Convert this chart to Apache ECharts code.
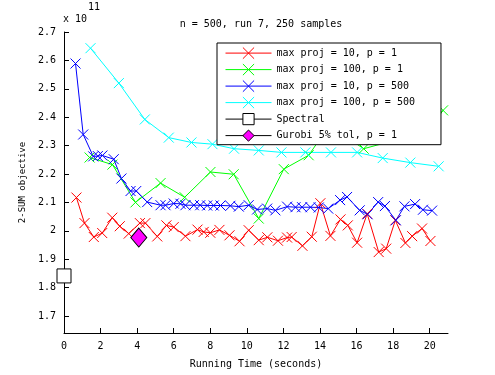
<!DOCTYPE html>
<html>
<head>
<meta charset="utf-8">
<script src="https://cdn.jsdelivr.net/npm/echarts@6/dist/echarts.min.js"></script>
<style>
    html, body { margin: 0; padding: 0; background: #fff; }
    #chart { width: 495px; height: 375px; }
</style>
</head>
<body>
<div id="chart"></div>
<script>
    // objective values are in units of 1e11 (see "x 10^11" label)
    let redTime = [0.68, 1.12, 1.63, 2.09, 2.64, 3.05, 3.54, 4.15, 4.45, 5.1, 5.6, 6.0, 6.64, 7.3, 7.64, 8.0, 8.5, 9.05, 9.6, 10.1,
        10.65, 11.12, 11.7, 12.2, 12.45, 13.04, 13.55, 14.02, 14.57, 15.12, 15.52, 16.03, 16.58, 17.21, 17.62, 18.12, 18.67, 19.04, 19.58, 20.04];
    let redObj = [2.117, 2.027, 1.978, 1.992, 2.046, 2.016, 1.99, 2.027, 2.027, 1.98, 2.019, 2.013, 1.981, 2.004, 1.996, 1.993, 2.003, 1.984, 1.963, 2.002,
        1.967, 1.977, 1.965, 1.976, 1.978, 1.947, 1.979, 2.097, 1.982, 2.04, 2.019, 1.958, 2.06, 1.925, 1.937, 2.037, 1.957, 1.981, 2.008, 1.964];

    let greenTime = [1.4, 2.65, 3.91, 5.28, 6.6, 8.01, 9.28, 10.65, 12.02, 13.38, 14.5, 16.39, 19.9, 20.73];
    let greenObj = [2.258, 2.233, 2.1, 2.168, 2.118, 2.207, 2.199, 2.043, 2.217, 2.266, 2.37, 2.289, 2.35, 2.424];

    let blueTime = [0.63, 1.05, 1.6, 1.85, 2.1, 2.72, 3.14, 3.64, 3.95, 4.55, 5.28, 5.55, 6.0, 6.37, 6.64, 7.1, 7.45, 7.83, 8.19, 8.56,
        9.1, 9.56, 10.1, 10.56, 11.11, 11.56, 12.2, 12.66, 13.02, 13.48, 13.93, 14.45, 15.1, 15.48, 16.17, 16.6, 17.18, 17.55, 18.15, 18.62,
        19.2, 19.63, 20.13];
    let blueObj = [2.589, 2.339, 2.262, 2.263, 2.265, 2.252, 2.184, 2.14, 2.14, 2.101, 2.09, 2.09, 2.096, 2.095, 2.09, 2.09, 2.09, 2.089, 2.089, 2.089,
        2.088, 2.085, 2.09, 2.075, 2.078, 2.072, 2.085, 2.083, 2.083, 2.083, 2.082, 2.078, 2.108, 2.119, 2.072, 2.058, 2.101, 2.087, 2.037, 2.086,
        2.094, 2.074, 2.071];

    let cyanTime = [1.45, 3.0, 4.42, 5.73, 6.97, 8.12, 9.3, 10.65, 11.89, 13.2, 14.6, 16.03, 17.43, 18.94, 20.49];
    let cyanObj = [2.643, 2.52, 2.392, 2.328, 2.311, 2.305, 2.289, 2.283, 2.276, 2.276, 2.276, 2.276, 2.256, 2.24, 2.227];

    let spectralTime = [0];
    let spectralObj = [1.841];
    let gurobiTime = [4.09];
    let gurobiObj = [1.976];

    let xTicks = [0, 2, 4, 6, 8, 10, 12, 14, 16, 18, 20];
    let yTicks = [1.7, 1.8, 1.9, 2, 2.1, 2.2, 2.3, 2.4, 2.5, 2.6, 2.7];

    let names = ['max proj = 10, p = 1', 'max proj = 100, p = 1', 'max proj = 10, p = 500',
        'max proj = 100, p = 500', 'Spectral', 'Gurobi 5% tol, p = 1'];

    let font = 'DejaVu Sans Mono';
    let cross = 'path://M0,0L10,10M10,0L0,10';

    function pairs(t, v) {
        return t.map(function (x, i) { return [x, v[i]]; });
    }

    function crossSeries(name, color, t, v) {
        return {
            name: name,
            type: 'line',
            data: pairs(t, v),
            symbol: cross,
            symbolSize: 10,
            lineStyle: {color: color, width: 1},
            itemStyle: {color: color, borderColor: color, borderWidth: 1},
            emphasis: {disabled: true}
        };
    }

    let chart = echarts.init(document.getElementById('chart'));
    let option = {
        animation: false,
        backgroundColor: '#fff',
        textStyle: {fontFamily: font},
        title: {
            text: 'n = 500, run 7, 250 samples',
            left: 256,
            textAlign: 'center',
            top: 14,
            textStyle: {fontSize: 10, fontWeight: 'normal', color: '#000', fontFamily: font}
        },
        graphic: [
            {type: 'text', left: 63, top: 14, style: {text: 'x 10', font: '10px ' + font, fill: '#000'}},
            {type: 'text', left: 88, top: 2, style: {text: '11', font: '10px ' + font, fill: '#000'}}
        ],
        grid: {left: 64, right: 47, top: 32, bottom: 42},
        legend: {
            orient: 'vertical',
            left: 217,
            top: 43,
            padding: [4, 26, 3, 8],
            itemWidth: 46,
            itemHeight: 14,
            itemGap: 4.3,
            borderColor: '#000',
            borderWidth: 1,
            backgroundColor: '#fff',
            selectedMode: false,
            itemStyle: {borderWidth: 1},
            lineStyle: {width: 1},
            textStyle: {fontSize: 10, color: '#000', fontFamily: font},
            data: names
        },
        xAxis: {
            type: 'value',
            min: 0,
            max: 21,
            name: 'Running Time (seconds)',
            nameLocation: 'middle',
            nameGap: 26,
            nameTextStyle: {fontSize: 10, color: '#000', fontFamily: font},
            axisLine: {lineStyle: {color: '#000', width: 1}},
            axisTick: {inside: true, length: 5, customValues: xTicks, lineStyle: {color: '#000'}},
            axisLabel: {customValues: xTicks, fontSize: 10, color: '#000', margin: 8, fontFamily: font},
            splitLine: {show: false}
        },
        yAxis: {
            type: 'value',
            min: 1.64,
            max: 2.7,
            name: '2-SUM objective',
            nameLocation: 'middle',
            nameGap: 36,
            nameTextStyle: {fontSize: 9, color: '#000', fontFamily: font},
            axisLine: {show: true, lineStyle: {color: '#000', width: 1}},
            axisTick: {show: true, inside: true, length: 5, customValues: yTicks, lineStyle: {color: '#000'}},
            axisLabel: {customValues: yTicks, fontSize: 10, color: '#000', margin: 8, fontFamily: font},
            splitLine: {show: false}
        },
        series: [
            crossSeries(names[0], '#ff0000', redTime, redObj),
            crossSeries(names[1], '#00ff00', greenTime, greenObj),
            crossSeries(names[2], '#0000ff', blueTime, blueObj),
            crossSeries(names[3], '#00ffff', cyanTime, cyanObj),
            {
                name: names[4],
                type: 'line',
                data: pairs(spectralTime, spectralObj),
                symbol: 'rect',
                symbolSize: 14,
                clip: false,
                lineStyle: {color: '#000', width: 1},
                itemStyle: {color: '#fff', borderColor: '#000', borderWidth: 1},
                emphasis: {disabled: true}
            },
            {
                name: names[5],
                type: 'line',
                data: pairs(gurobiTime, gurobiObj),
                symbol: 'diamond',
                symbolSize: [16, 19],
                lineStyle: {color: '#000', width: 1},
                itemStyle: {color: '#ff00ff', borderColor: '#000', borderWidth: 1},
                emphasis: {disabled: true}
            }
        ]
    };
    chart.setOption(option, true);
    window.onresize = () => {
        chart.resize();
    };
</script>
</body>
</html>
